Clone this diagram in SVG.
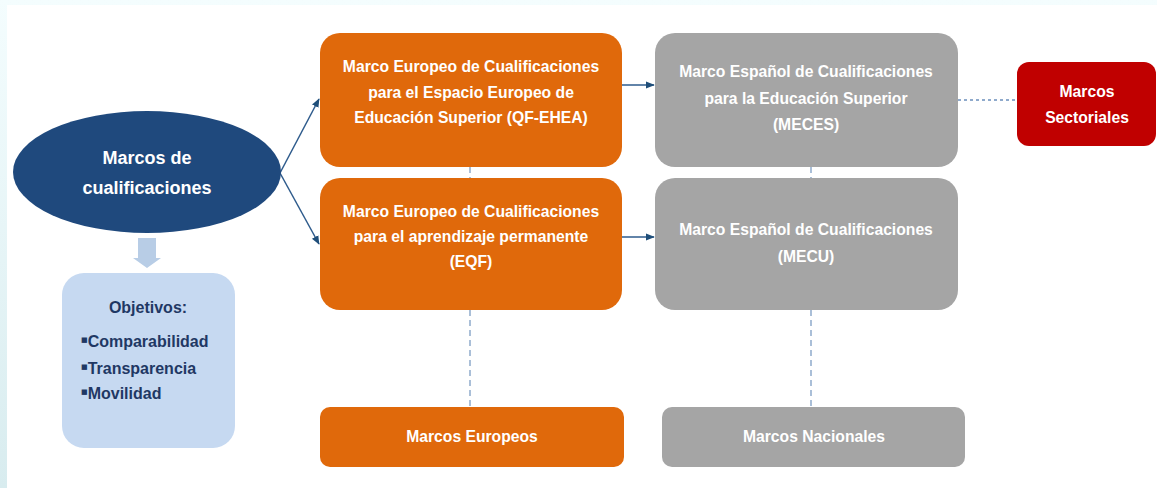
<svg xmlns="http://www.w3.org/2000/svg" width="1157" height="488" viewBox="0 0 1157 488">
<defs>
<linearGradient id="edge" x1="0" y1="0" x2="0" y2="1">
<stop offset="0" stop-color="#f4fdfe"/>
<stop offset="1" stop-color="#d8ecef"/>
</linearGradient>
<marker id="ah2" viewBox="0 0 10 10" refX="9" refY="5" markerWidth="9" markerHeight="9" orient="auto" markerUnits="userSpaceOnUse">
<path d="M0,1 L10,5 L0,9 z" fill="#1f4e79"/>
</marker>
</defs>
<style>
text{font-family:"Liberation Sans","DejaVu Sans",Arial,sans-serif;font-weight:bold;text-anchor:middle}
.w{fill:#ffffff;font-size:15.7px}
.big{fill:#ffffff;font-size:18px}
.nv{fill:#1f3864;font-size:16px}
.bl{font-family:"DejaVu Sans",sans-serif;font-size:7px}
.or{fill:#e0690b}
.gr{fill:#a5a5a5}
.rd{fill:#c00000}
.lb{fill:#c6d9f1}
.arr{stroke:#2e5b8c;stroke-width:1.5;fill:none}
.dash{stroke:#8faacc;stroke-width:1.5;fill:none;stroke-dasharray:6,4}
.dot{stroke:#8faacc;stroke-width:2;fill:none;stroke-dasharray:3,3}
</style>
<rect x="0" y="0" width="1157" height="488" fill="url(#edge)"/>
<rect x="7" y="5" width="1150" height="483" fill="#ffffff"/>

<g id="connectors">
<line class="arr" x1="280" y1="173" x2="319" y2="99" marker-end="url(#ah2)"/>
<line class="arr" x1="280" y1="173" x2="319" y2="244" marker-end="url(#ah2)"/>
<line class="arr" x1="622" y1="85" x2="654" y2="85" marker-end="url(#ah2)"/>
<line class="arr" x1="622" y1="237" x2="654" y2="237" marker-end="url(#ah2)"/>
<line class="dash" x1="470" y1="167" x2="470" y2="178"/>
<line class="dash" x1="470" y1="310" x2="470" y2="407"/>
<line class="dash" x1="811" y1="167" x2="811" y2="178"/>
<line class="dash" x1="811" y1="310" x2="811" y2="407"/>
<line class="dot" x1="958" y1="100" x2="1017" y2="100"/>
<path d="M138,238 H156 V258 H161 L147,268 L133,258 H138 Z" fill="#b8cde6"/>
</g>

<g id="marcos-cualificaciones">
<ellipse cx="147" cy="172" rx="134" ry="61" fill="#1f497d"/>
<text class="big" x="147" y="164">Marcos de</text>
<text class="big" x="147" y="194">cualificaciones</text>
</g>

<g id="objetivos">
<rect class="lb" x="62" y="273" width="173" height="175" rx="22"/>
<text class="nv" x="148" y="313">Objetivos:</text>
<text class="nv" x="81" y="347" style="text-anchor:start"><tspan class="bl" dy="-5">■</tspan><tspan dy="5">Comparabilidad</tspan></text>
<text class="nv" x="81" y="374" style="text-anchor:start"><tspan class="bl" dy="-5">■</tspan><tspan dy="5">Transparencia</tspan></text>
<text class="nv" x="81" y="399" style="text-anchor:start"><tspan class="bl" dy="-5">■</tspan><tspan dy="5">Movilidad</tspan></text>
</g>

<g id="qf-ehea">
<rect class="or" x="320" y="33" width="302" height="134" rx="20"/>
<text class="w" x="471" y="72">Marco Europeo de Cualificaciones</text>
<text class="w" x="471" y="98">para el Espacio Europeo de</text>
<text class="w" x="471" y="123">Educación Superior (QF-EHEA)</text>
</g>

<g id="eqf">
<rect class="or" x="320" y="178" width="302" height="132" rx="20"/>
<text class="w" x="471" y="217">Marco Europeo de Cualificaciones</text>
<text class="w" x="471" y="242">para el aprendizaje permanente</text>
<text class="w" x="471" y="267">(EQF)</text>
</g>

<g id="meces">
<rect class="gr" x="655" y="33" width="303" height="134" rx="20"/>
<text class="w" x="806" y="77">Marco Español de Cualificaciones</text>
<text class="w" x="806" y="104">para la Educación Superior</text>
<text class="w" x="806" y="130">(MECES)</text>
</g>

<g id="mecu">
<rect class="gr" x="655" y="178" width="303" height="132" rx="20"/>
<text class="w" x="806" y="235">Marco Español de Cualificaciones</text>
<text class="w" x="806" y="262">(MECU)</text>
</g>

<g id="sectoriales">
<rect class="rd" x="1017" y="62" width="139" height="84" rx="12"/>
<text class="w" x="1087" y="97">Marcos</text>
<text class="w" x="1087" y="123">Sectoriales</text>
</g>

<g id="europeos">
<rect class="or" x="320" y="407" width="304" height="60" rx="10"/>
<text class="w" x="472" y="442">Marcos Europeos</text>
</g>

<g id="nacionales">
<rect class="gr" x="662" y="407" width="303" height="60" rx="10"/>
<text class="w" x="814" y="442">Marcos Nacionales</text>
</g>
</svg>
